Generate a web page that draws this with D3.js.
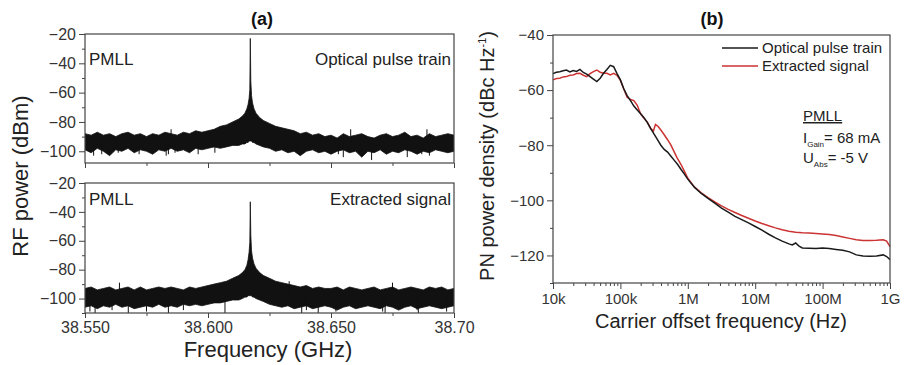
<!DOCTYPE html>
<html>
<head>
<meta charset="utf-8">
<style>
    body { margin: 0; background: #fff; }
    svg { display: block; font-family: 'Liberation Sans', Arial, sans-serif; }
    .tick text { fill: #333; }
    .tick line { stroke: #444; }
    .domain { display: none; }
</style>
</head>
<body>
<svg width="905" height="365"></svg>

<script src="https://d3js.org/d3.v7.min.js"></script>
<script>
    // ---- panel (a): RF spectra, stored as noise envelopes (GHz, dBm) ----
    const freqA = [
        38.5500, 38.5525, 38.5550, 38.5575, 38.5600, 38.5625, 38.5650, 38.5675, 38.5700, 38.5725,
        38.5750, 38.5775, 38.5800, 38.5825, 38.5850, 38.5875, 38.5900, 38.5925, 38.5950, 38.5975,
        38.6000, 38.6025, 38.6050, 38.6075, 38.6100,
        38.6125, 38.6140, 38.6150, 38.6158, 38.6163, 38.6167, 38.6170, 38.6172, 38.6174, 38.6177,
        38.6181, 38.6187, 38.6195, 38.6210, 38.6225,
        38.6250, 38.6275, 38.6300, 38.6325, 38.6350, 38.6375, 38.6400, 38.6425, 38.6450, 38.6475,
        38.6500, 38.6525, 38.6550, 38.6575, 38.6600, 38.6625, 38.6650, 38.6675, 38.6700, 38.6725,
        38.6750, 38.6775, 38.6800, 38.6825, 38.6850, 38.6875, 38.6900, 38.6925, 38.6950, 38.6975,
        38.7000
    ]

    // optical pulse train
    const upperOpt = [
        -88, -89, -87, -89, -88, -90, -88, -87, -89, -88,
        -90, -88, -89, -87, -88, -89, -87, -88, -86, -87,
        -86, -85, -83, -82, -80,
        -78, -76, -74, -71, -68, -64, -58, -23, -52, -62,
        -67, -71, -74, -77, -79,
        -81, -83, -84, -85, -86, -88, -87, -89, -88, -90,
        -89, -91, -88, -90, -89, -88, -90, -91, -89, -88,
        -90, -89, -87, -90, -89, -91, -88, -90, -89, -88,
        -89
    ]
    const lowerOpt = [
        -99, -101, -98, -100, -103, -99, -100, -98, -101, -99,
        -100, -102, -99, -100, -98, -100, -99, -101, -98, -99,
        -98, -97, -98, -97, -96,
        -96, -95, -95, -94, -94, -93, -93, -93, -93, -93,
        -94, -94, -95, -96, -97,
        -98, -100, -99, -101, -100, -103, -100, -99, -101, -100,
        -102, -100, -99, -101, -100, -104, -100, -101, -99, -102,
        -100, -101, -99, -100, -102, -100, -101, -99, -100, -101,
        -100
    ]
    const spikeOptF = [38.5535, 38.5568, 38.5635, 38.572, 38.583, 38.5839, 38.5866, 38.585, 38.596, 38.6028,
        38.6367, 38.653, 38.655, 38.658, 38.662, 38.6665, 38.681, 38.6869, 38.689, 38.690]
    const spikeOptV = [-103, -102, -101, -102, -103, -102, -101, -85, -102, -101,
        -101, -102, -104, -85, -103, -106, -104, -102, -85, -103]

    // extracted signal
    const upperExt = [
        -93, -92, -94, -93, -92, -94, -93, -92, -94, -92,
        -94, -93, -92, -93, -92, -93, -94, -92, -93, -92,
        -91, -90, -89, -88, -86,
        -84, -82, -80, -77, -73, -68, -61, -33, -56, -67,
        -72, -76, -79, -82, -84,
        -86, -88, -89, -90, -91, -92, -91, -93, -92, -93,
        -93, -92, -94, -92, -93, -94, -93, -92, -94, -93,
        -92, -94, -93, -92, -93, -94, -92, -93, -92, -94,
        -93
    ]
    const lowerExt = [
        -106, -105, -107, -105, -106, -104, -106, -105, -107, -106,
        -105, -106, -104, -106, -105, -106, -104, -105, -104, -105,
        -104, -103, -103, -102, -101,
        -101, -100, -99, -99, -98, -98, -98, -98, -98, -98,
        -99, -99, -100, -101, -102,
        -104, -105, -106, -105, -107, -106, -105, -107, -106, -105,
        -106, -108, -106, -105, -107, -106, -105, -106, -107, -105,
        -106, -108, -106, -105, -107, -106, -105, -106, -107, -106,
        -105
    ]
    const spikeExtF = [38.552, 38.5541, 38.561, 38.564, 38.5676, 38.575, 38.5839, 38.590, 38.6069, 38.633,
        38.6381, 38.640, 38.6448, 38.652, 38.671, 38.672, 38.675, 38.685, 38.6855, 38.697]
    const spikeExtV = [-109, -110, -108, -89, -110, -109, -110, -108, -110, -88,
        -110, -108, -110, -109, -109, -110, -89, -108, -110, -109]

    const tickA = [38.55, 38.60, 38.65, 38.70]
    const tickLabelsA = ["38.550", "38.600", "38.650", "38.70"]
    const minorA = [38.575, 38.625, 38.675]
    const yTicksA = [-20, -40, -60, -80, -100]
    const yMinorA = [-30, -50, -70, -90, -110]

    // ---- panel (b): phase noise, offset as log10(Hz) ----
    const pnExpOpt = [
        4.00, 4.05, 4.10, 4.15, 4.20, 4.25, 4.30, 4.35, 4.40, 4.45, 4.50, 4.55, 4.60, 4.65, 4.70,
        4.75, 4.80, 4.85, 4.90, 4.95, 5.00, 5.05, 5.10, 5.15, 5.20, 5.25, 5.30, 5.35, 5.40, 5.45,
        5.50, 5.55, 5.60, 5.65, 5.70, 5.75, 5.80, 5.85, 5.90, 5.95, 6.00, 6.10, 6.20, 6.30, 6.40,
        6.50, 6.60, 6.70, 6.80, 6.90, 7.00, 7.10, 7.20, 7.30, 7.40, 7.50, 7.55, 7.60, 7.65, 7.70,
        7.80, 7.90, 8.00, 8.10, 8.20, 8.30, 8.40, 8.50, 8.60, 8.70, 8.80, 8.90, 8.95, 9.00
    ]
    const pnOpt = [
        -54.0, -53.5, -53.3, -53.0, -52.7, -53.4, -52.9, -53.2, -52.5, -53.6, -54.2, -55.1, -56.0, -56.9, -55.7,
        -53.9, -52.5, -51.0, -51.5, -54.0, -56.3, -59.5, -62.0, -63.8, -65.8, -67.2, -68.6, -70.0, -71.8, -74.0,
        -76.0, -78.0, -80.0, -81.5, -82.5, -84.0, -85.5, -87.0, -88.8, -90.5, -92.3, -95.3, -97.5, -99.3, -101.0,
        -102.8, -104.3, -105.8, -107.0, -108.2, -109.5, -110.8, -112.3, -113.6, -114.8, -115.8, -116.2, -115.5, -116.6, -117.3,
        -117.4, -117.5, -117.3, -117.5, -117.8, -118.1, -118.7, -119.8, -120.2, -120.3, -120.2, -119.8, -120.4, -121.5
    ]
    const pnExpExt = [
        4.00, 4.05, 4.10, 4.15, 4.20, 4.25, 4.30, 4.35, 4.40, 4.45, 4.50, 4.55, 4.60, 4.65, 4.70,
        4.75, 4.80, 4.85, 4.90, 4.95, 5.00, 5.05, 5.10, 5.15, 5.20, 5.25, 5.30, 5.35, 5.40, 5.45,
        5.49, 5.52, 5.56, 5.60, 5.65, 5.70, 5.75, 5.80, 5.85, 5.90, 5.95, 6.00, 6.10, 6.20, 6.30,
        6.40, 6.50, 6.60, 6.70, 6.80, 6.90, 7.00, 7.10, 7.20, 7.30, 7.40, 7.50, 7.60, 7.70, 7.80,
        7.90, 8.00, 8.10, 8.20, 8.30, 8.40, 8.50, 8.60, 8.70, 8.80, 8.90, 8.95, 9.00
    ]
    const pnExt = [
        -56.3, -55.8, -55.7, -55.2, -55.1, -54.6, -54.5, -54.0, -53.9, -54.6, -55.1, -54.0, -53.3, -52.7, -53.5,
        -53.9, -53.9, -54.5, -53.9, -54.6, -56.5, -59.6, -62.6, -63.4, -63.8, -65.5, -68.6, -70.2, -71.6, -74.0,
        -74.8, -72.5, -73.2, -74.5, -76.2, -78.0, -80.0, -82.5, -85.0, -87.0, -89.5, -92.0, -95.2, -97.3, -99.0,
        -100.6, -102.0, -103.3, -104.4, -105.5, -106.5, -107.5, -108.4, -109.2, -110.0, -110.7, -111.2, -111.6, -111.8, -111.9,
        -112.0, -112.2, -112.4, -112.8, -113.3, -113.8, -114.3, -114.6, -114.6, -114.5, -114.3, -114.8, -116.8
    ]
    const tickB = [1e4, 1e5, 1e6, 1e7, 1e8, 1e9]
    const tickLabelsB = ["10k", "100k", "1M", "10M", "100M", "1G"]
    const yTicksB = [-40, -60, -80, -100, -120]
    const yMinorB = [-50, -70, -90, -110, -130]

    const seriesB = ["Optical pulse train", "Extracted signal"]
    const colorsB = ["#1a1a1a", "#cc3333"]

    let svg = d3.select("svg")
    svg.append("rect").attr("width", 905).attr("height", 365).attr("fill", "white")

    let xA = d3.scaleLinear().domain([38.55, 38.70]).range([85, 454])
    let yA1 = d3.scaleLinear().domain([-108, -20]).range([163, 34])
    let yA2 = d3.scaleLinear().domain([-110, -20]).range([313, 183])

    let xB = d3.scaleLog().domain([1e4, 1e9]).range([553, 890])
    let yB = d3.scaleLinear().domain([-130, -40]).range([283, 35])

    function spectrum(y, upper, lower, spikeF, spikeV, base, clipId) {
        let rows = freqA.map((f, i) => ({ f: f, hi: upper[i], lo: lower[i] }))
        svg.append("clipPath").attr("id", clipId)
            .append("rect")
            .attr("x", xA.range()[0]).attr("y", y.range()[1])
            .attr("width", xA.range()[1] - xA.range()[0])
            .attr("height", y.range()[0] - y.range()[1])

        let g = svg.append("g").attr("clip-path", `url(#${clipId})`)
        g.append("path")
            .datum(rows)
            .attr("d", d3.area().x(d => xA(d.f)).y0(d => y(d.lo)).y1(d => y(d.hi)))
            .attr("fill", "#111")
            .attr("stroke", "#111")
            .attr("stroke-width", 0.8)
            .attr("stroke-linejoin", "round")
        g.selectAll(".spike")
            .data(spikeF.map((f, i) => ({ f: f, v: spikeV[i] })))
            .join("line")
            .attr("x1", d => xA(d.f)).attr("x2", d => xA(d.f))
            .attr("y1", y(base)).attr("y2", d => y(d.v))
            .attr("stroke", "#111").attr("stroke-width", 1)
    }

    spectrum(yA1, upperOpt, lowerOpt, spikeOptF, spikeOptV, -95, "clipA1")
    spectrum(yA2, upperExt, lowerExt, spikeExtF, spikeExtV, -100, "clipA2")

    // panel (a) axes
    function axesA(y, showLabels) {
        let bottom = y.range()[0]
        svg.append("g")
            .attr("transform", `translate(85,0)`)
            .call(d3.axisLeft(y).tickValues(yTicksA).tickSize(6).tickPadding(3))
            .selectAll("text").style("font-size", "16px")
        svg.append("g")
            .attr("transform", `translate(85,0)`)
            .call(d3.axisLeft(y).tickValues(yMinorA.filter(v => v >= y.domain()[0])).tickSize(3).tickFormat(""))

        let xa = svg.append("g")
            .attr("transform", `translate(0,${bottom})`)
            .call(d3.axisBottom(xA).tickValues(tickA).tickSize(5).tickPadding(4)
                .tickFormat((d, i) => showLabels ? tickLabelsA[i] : ""))
        xa.selectAll("text").style("font-size", "16px")
        svg.append("g")
            .attr("transform", `translate(0,${bottom})`)
            .call(d3.axisBottom(xA).tickValues(minorA).tickSize(3).tickFormat(""))

        svg.append("rect")
            .attr("x", 85).attr("y", y.range()[1])
            .attr("width", 454 - 85).attr("height", bottom - y.range()[1])
            .attr("fill", "none").attr("stroke", "#444").attr("stroke-width", 1.2)
    }
    axesA(yA1, false)
    axesA(yA2, true)

    // panel (a) in-plot labels
    let inA = [
        { t: "PMLL", x: 89, y: 65, a: "start" },
        { t: "Optical pulse train", x: 451, y: 65, a: "end" },
        { t: "PMLL", x: 89, y: 205, a: "start" },
        { t: "Extracted signal", x: 451, y: 205, a: "end" }
    ]
    svg.selectAll(".inA")
        .data(inA)
        .join("text")
        .attr("x", d => d.x).attr("y", d => d.y)
        .attr("text-anchor", d => d.a)
        .attr("font-size", 17).attr("fill", "#222")
        .text(d => d.t)

    // panel (b) lines
    let lineB = d3.line().x(d => xB(Math.pow(10, d[0]))).y(d => yB(d[1]))
    let linesB = [
        pnExpOpt.map((e, i) => [e, pnOpt[i]]),
        pnExpExt.map((e, i) => [e, pnExt[i]])
    ]
    // draw red first, black on top where they overlap
    svg.append("path").datum(linesB[1]).attr("d", lineB)
        .attr("fill", "none").attr("stroke", colorsB[1]).attr("stroke-width", 1.5)
    svg.append("path").datum(linesB[0]).attr("d", lineB)
        .attr("fill", "none").attr("stroke", colorsB[0]).attr("stroke-width", 1.5)

    // panel (b) axes
    svg.append("g")
        .attr("transform", "translate(553,0)")
        .call(d3.axisLeft(yB).tickValues(yTicksB).tickSize(6).tickPadding(3))
        .selectAll("text").style("font-size", "15px")
    svg.append("g")
        .attr("transform", "translate(553,0)")
        .call(d3.axisLeft(yB).tickValues(yMinorB).tickSize(3).tickFormat(""))

    let minorB = []
    tickB.slice(0, -1).forEach(t => { for (let k = 2; k <= 9; k++) minorB.push(t * k) })
    svg.append("g")
        .attr("transform", "translate(0,283)")
        .call(d3.axisBottom(xB).tickValues(tickB).tickSize(6).tickPadding(4)
            .tickFormat((d, i) => tickLabelsB[i]))
        .selectAll("text").style("font-size", "15px")
    svg.append("g")
        .attr("transform", "translate(0,283)")
        .call(d3.axisBottom(xB).tickValues(minorB).tickSize(3).tickFormat(""))

    svg.append("rect")
        .attr("x", 553).attr("y", 35).attr("width", 890 - 553).attr("height", 283 - 35)
        .attr("fill", "none").attr("stroke", "#444").attr("stroke-width", 1.2)

    // legend
    let leg = svg.append("g")
    seriesB.forEach((s, i) => {
        let ly = 48 + i * 18
        leg.append("line").attr("x1", 722).attr("x2", 758).attr("y1", ly).attr("y2", ly)
            .attr("stroke", colorsB[i]).attr("stroke-width", 1.5)
        leg.append("text").attr("x", 762).attr("y", ly + 5)
            .attr("font-size", 15).attr("fill", "#222").text(s)
    })

    // condition note
    let note = svg.append("g").attr("fill", "#222")
    note.append("text").attr("x", 803).attr("y", 121).attr("font-size", 15)
        .attr("text-decoration", "underline").text("PMLL")
    let t1 = note.append("text").attr("x", 803).attr("y", 143).attr("font-size", 15)
    t1.append("tspan").text("I")
    t1.append("tspan").attr("font-size", 8).attr("dy", 4).text("Gain")
    t1.append("tspan").attr("dy", -4).text("= 68 mA")
    let t2 = note.append("text").attr("x", 803).attr("y", 163).attr("font-size", 15)
    t2.append("tspan").text("U")
    t2.append("tspan").attr("font-size", 8).attr("dy", 4).text("Abs")
    t2.append("tspan").attr("dy", -4).text("= -5 V")

    // titles
    svg.append("text").attr("x", 262).attr("y", 25).attr("text-anchor", "middle")
        .attr("font-size", 18).attr("font-weight", "bold").attr("fill", "#111").text("(a)")
    svg.append("text").attr("x", 712).attr("y", 25).attr("text-anchor", "middle")
        .attr("font-size", 18).attr("font-weight", "bold").attr("fill", "#111").text("(b)")

    // axis titles
    svg.append("text").attr("x", 268).attr("y", 357).attr("text-anchor", "middle")
        .attr("font-size", 22).attr("fill", "#222").text("Frequency (GHz)")
    svg.append("text").attr("transform", "translate(28,176) rotate(-90)").attr("text-anchor", "middle")
        .attr("font-size", 22).attr("fill", "#222").text("RF power (dBm)")
    svg.append("text").attr("x", 721).attr("y", 328).attr("text-anchor", "middle")
        .attr("font-size", 20).attr("fill", "#222").text("Carrier offset frequency (Hz)")
    let yt = svg.append("text").attr("transform", "translate(494,156) rotate(-90)").attr("text-anchor", "middle")
        .attr("font-size", 20).attr("fill", "#222")
    yt.append("tspan").text("PN power density (dBc Hz")
    yt.append("tspan").attr("font-size", 11).attr("dy", -8).text("-1")
    yt.append("tspan").attr("dy", 8).text(")")
</script>
</body>
</html>
